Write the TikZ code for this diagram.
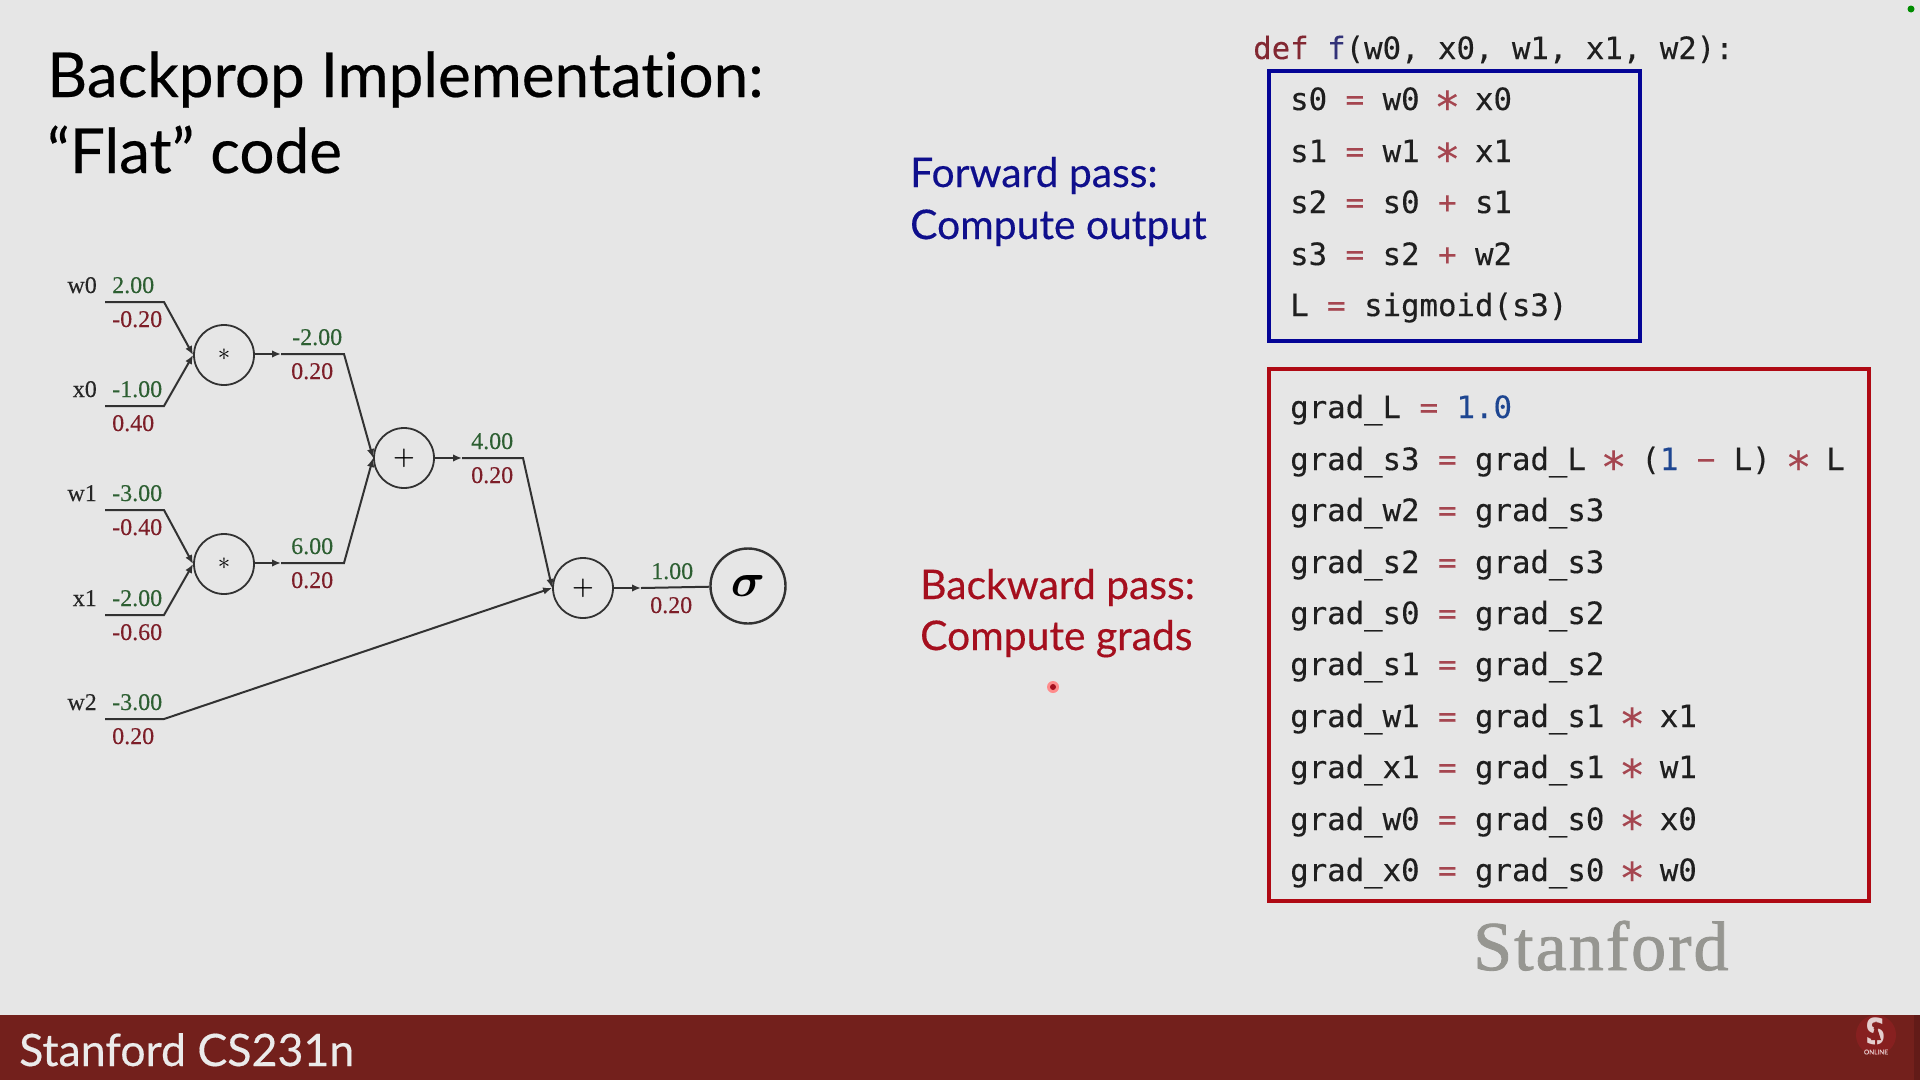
\documentclass[tikz,border=0pt]{standalone}
\usepackage{amsmath}
\usepackage{xcolor}
\usepackage{fontspec}
\setmainfont[FakeBold=0.35, Ligatures=NoCommon]{Lato}
\newfontfamily\graphfont[FakeBold=0.2]{Liberation Serif}
\newfontfamily\codefont[FakeBold=0.25]{DejaVu Sans Mono}
\newfontfamily\markfont[FakeBold=1.2, LetterSpace=2.9]{Liberation Serif}
\newfontfamily\logofont{DejaVu Sans}
\usepackage{tikz}
\usetikzlibrary{arrows.meta, positioning}
\definecolor{slidegray}{RGB}{230, 230, 230}
\definecolor{footerred}{RGB}{115, 32, 28}
\definecolor{logored}{RGB}{135, 32, 32}
\definecolor{wiregray}{RGB}{50, 50, 50}
\definecolor{valgreen}{RGB}{45, 95, 50}
\definecolor{gradred}{RGB}{125, 30, 40}
\definecolor{forwardblue}{RGB}{15, 15, 140}
\definecolor{backwardred}{RGB}{165, 15, 30}
\definecolor{boxblue}{RGB}{5, 5, 150}
\definecolor{boxred}{RGB}{175, 10, 20}
\definecolor{opred}{RGB}{165, 70, 80}
\definecolor{keyred}{RGB}{130, 40, 50}
\definecolor{funcblue}{RGB}{50, 50, 120}
\definecolor{numblue}{RGB}{30, 70, 145}
\definecolor{stanfordgray}{RGB}{150, 150, 145}
\newcommand{\opc}[1]{\textcolor{opred}{#1}}
\newcommand{\numc}[1]{\textcolor{numblue}{#1}}
\newcommand{\starop}{\textcolor{opred}{\makebox[0.602em]{\raisebox{-0.12em}{\scalebox{1.4}{∗}}}}}
\tikzset{
  txt/.style={anchor=base west, inner sep=0pt},
  opnode/.style={circle, draw=wiregray, line width=1.8pt, minimum size=60pt, inner sep=0pt, font=\fontsize{27}{27}\selectfont},
  wire/.style={draw=wiregray, line width=2pt},
  tipwire/.style={wire, -{Latex[length=9pt, width=7.5pt]}},
  namelab/.style={anchor=base east, inner sep=0pt, font=\graphfont\fontsize{24}{24}\selectfont, text=black!85},
  vallab/.style={txt, font=\graphfont\fontsize{24}{24}\selectfont, text=valgreen},
  gradlab/.style={txt, font=\graphfont\fontsize{24}{24}\selectfont, text=gradred},
  codeline/.style={txt, font=\codefont\fontsize{30.7}{30.7}\selectfont, text=black!88},
  headtxt/.style={txt, font=\fontsize{40.8}{41}\selectfont},
}
\begin{document}
\begin{tikzpicture}[x=1pt, y=-1pt]
  \useasboundingbox (0,0) rectangle (1920,1080);
  \fill[slidegray] (0,0) rectangle (1920,1080);
  \fill[footerred] (0,1015) rectangle (1920,1080);
  \fill[footerred!85!black] (1914,1015) rectangle (1920,1080);

  % Slide title and footer
  \node[txt, font=\fontsize{62}{62}\selectfont] (title1) at (47,97) {Backprop Implementation:};
  \node[txt, font=\fontsize{62}{62}\selectfont] (title2) at (47,173) {“Flat” code};
  \node[txt, text=white!92!black, font=\fontsize{44.7}{45}\selectfont] (course) at (19,1066) {Stanford CS231n};

  % Inputs of the graph
  \node[namelab] (w0name) at (97,293) {w0};
  \node[namelab] (x0name) at (97,397) {x0};
  \node[namelab] (w1name) at (97,501) {w1};
  \node[namelab] (x1name) at (97,606) {x1};
  \node[namelab] (w2name) at (97,710) {w2};
  \node[vallab] (w0val) at (112,293) {2.00};
  \node[gradlab] (w0grad) at (112,327) {-0.20};
  \node[vallab] (x0val) at (112,397) {-1.00};
  \node[gradlab] (x0grad) at (112,431) {0.40};
  \node[vallab] (w1val) at (112,501) {-3.00};
  \node[gradlab] (w1grad) at (112,535) {-0.40};
  \node[vallab] (x1val) at (112,606) {-2.00};
  \node[gradlab] (x1grad) at (112,640) {-0.60};
  \node[vallab] (w2val) at (112,710) {-3.00};
  \node[gradlab] (w2grad) at (112,744) {0.20};

  % Operators
  \node[opnode] (mul0) at (224,355) {$\ast$};
  \node[opnode] (mul1) at (224,564) {$\ast$};
  \node[opnode] (add0) at (404,458) {$\boldsymbol{+}$};
  \node[opnode] (add1) at (583,588) {$\boldsymbol{+}$};
  \node[opnode, minimum size=75pt, line width=2.4pt] (sigma) at (748,586) {\scalebox{1.9}{$\boldsymbol{\sigma}$}};

  % Outputs of the operators
  \node[vallab] (mul0val) at (292,345) {-2.00};
  \node[gradlab] (mul0grad) at (291,379) {0.20};
  \node[vallab] (mul1val) at (291,554) {6.00};
  \node[gradlab] (mul1grad) at (291,588) {0.20};
  \node[vallab] (add0val) at (471,449) {4.00};
  \node[gradlab] (add0grad) at (471,483) {0.20};
  \node[vallab] (add1val) at (651,579) {1.00};
  \node[gradlab] (add1grad) at (650,613) {0.20};

  % Wire corners
  \coordinate (w0a) at (105,302);
  \coordinate (w0b) at (164,302);
  \coordinate (x0a) at (105,406);
  \coordinate (x0b) at (164,406);
  \coordinate (w1a) at (105,510);
  \coordinate (w1b) at (164,510);
  \coordinate (x1a) at (105,615);
  \coordinate (x1b) at (164,615);
  \coordinate (w2a) at (105,719);
  \coordinate (w2b) at (164,719);
  \coordinate (mul0tip) at (281,354);
  \coordinate (mul0b) at (344,354);
  \coordinate (mul1tip) at (281,563);
  \coordinate (mul1b) at (344,563);
  \coordinate (add0tip) at (462,458);
  \coordinate (add0b) at (523,458);
  \coordinate (add1tip) at (641,588);

  % Wires
  \draw[tipwire] (w0a) -- (w0b) -- (mul0.west);
  \draw[tipwire] (x0a) -- (x0b) -- (mul0.west);
  \draw[tipwire] (w1a) -- (w1b) -- (mul1.west);
  \draw[tipwire] (x1a) -- (x1b) -- (mul1.west);
  \draw[tipwire] (mul0.east |- mul0tip) -- (mul0tip);
  \draw[tipwire] (mul0tip) -- (mul0b) -- (add0.west);
  \draw[tipwire] (mul1.east |- mul1tip) -- (mul1tip);
  \draw[tipwire] (mul1tip) -- (mul1b) -- (add0.west);
  \draw[tipwire] (add0.east) -- (add0tip);
  \draw[tipwire] (add0tip) -- (add0b) -- (add1.west);
  \draw[tipwire] (w2a) -- (w2b) -- (add1.west);
  \draw[tipwire] (add1.east) -- (add1tip);
  \draw[wire] (add1tip) -- (sigma);

  % Pass headings
  \node[headtxt, text=forwardblue] (fwd1) at (910,187) {Forward pass:};
  \node[headtxt, text=forwardblue] (fwd2) at (910,239) {Compute output};
  \node[headtxt, text=backwardred] (bwd1) at (920,599) {Backward pass:};
  \node[headtxt, text=backwardred] (bwd2) at (920,650) {Compute grads};
  % Pointer dots
  \fill[red!45!white] (1053,687) circle (6);
  \fill[backwardred] (1053,687) circle (3);
  \fill[green!55!black] (1911,9) circle (3.5);

  % Forward code
  \node[codeline] (defline) at (1253,59) {\textcolor{keyred}{def} \textcolor{funcblue}{f}(w0, x0, w1, x1, w2):};
  \node[codeline] (s0) at (1290,110) {s0 \opc{=} w0 \starop{} x0};
  \node[codeline] (s1) at (1290,162) {s1 \opc{=} w1 \starop{} x1};
  \node[codeline] (s2) at (1290,213) {s2 \opc{=} s0 \opc{+} s1};
  \node[codeline] (s3) at (1290,265) {s3 \opc{=} s2 \opc{+} w2};
  \node[codeline] (loss) at (1290,316) {L \opc{=} sigmoid(s3)};
  \draw[boxblue, line width=3.5pt] (1269,71) rectangle (1640,341);

  % Backward code
  \node[codeline] (gradL) at (1290,418) {grad\_L \opc{=} \numc{1.0}};
  \node[codeline] (grads3) at (1290,470) {grad\_s3 \opc{=} grad\_L \starop{} (\numc{1} \opc{−} L) \starop{} L};
  \node[codeline] (gradw2) at (1290,521) {grad\_w2 \opc{=} grad\_s3};
  \node[codeline] (grads2) at (1290,573) {grad\_s2 \opc{=} grad\_s3};
  \node[codeline] (grads0) at (1290,624) {grad\_s0 \opc{=} grad\_s2};
  \node[codeline] (grads1) at (1290,675) {grad\_s1 \opc{=} grad\_s2};
  \node[codeline] (gradw1) at (1290,727) {grad\_w1 \opc{=} grad\_s1 \starop{} x1};
  \node[codeline] (gradx1) at (1290,778) {grad\_x1 \opc{=} grad\_s1 \starop{} w1};
  \node[codeline] (gradw0) at (1290,830) {grad\_w0 \opc{=} grad\_s0 \starop{} x0};
  \node[codeline] (gradx0) at (1290,881) {grad\_x0 \opc{=} grad\_s0 \starop{} w0};
  \draw[boxred, line width=3.5pt] (1269,369) rectangle (1869,901);

  % Logos
  \node[txt, text=stanfordgray, font=\markfont\fontsize{70}{70}\selectfont] (wordmark) at (1473,970) {Stanford};
  \fill[logored] (1876,1035) circle (20);
  \node[xscale=0.8, text=white!78!logored, inner sep=0pt, font=\logofont\bfseries\fontsize{36}{36}\selectfont] (logoS) at (1876,1031) {S};
  \fill[logored] (1876,1021) -- (1878.5,1029) -- (1877.5,1029) -- (1881,1040) -- (1877,1040) -- (1877,1045) -- (1875,1045) -- (1875,1040) -- (1871,1040) -- (1874.5,1029) -- (1873.5,1029) -- cycle;
  \node[text=white!78!logored, inner sep=0pt, font=\fontsize{6.5}{6.5}\selectfont] (logoon) at (1876,1052) {ONLINE};
\end{tikzpicture}
\end{document}
